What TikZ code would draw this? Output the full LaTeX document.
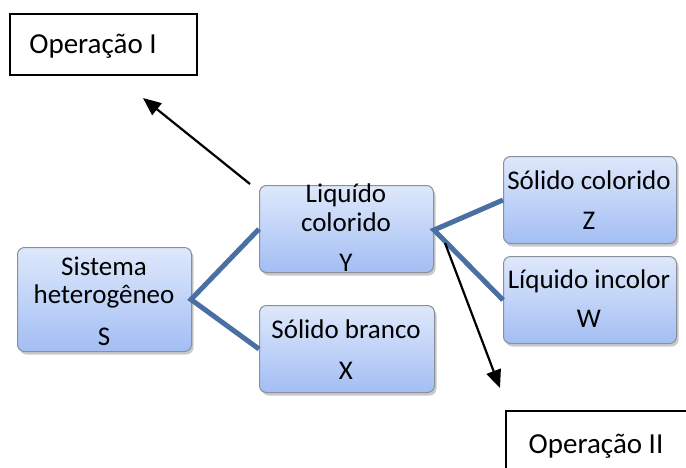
\documentclass[tikz,border=0pt]{standalone}
\usepackage{fontspec}
\setmainfont{Carlito}
\usetikzlibrary{shadows,arrows.meta}
\definecolor{boxtop}{HTML}{DEE8FB}
\definecolor{boxbot}{HTML}{A3BEF4}
\definecolor{boxline}{HTML}{8A8F99}
\definecolor{conn}{HTML}{4A6FA3}
\tikzset{
  bluebox/.style={draw=boxline, line width=1pt, rounded corners=7pt, top color=boxtop, bottom color=boxbot,
    drop shadow={shadow xshift=2pt, shadow yshift=-3pt, opacity=0.35, fill=black!60}},
  opbox/.style={draw=black, line width=1.6pt, fill=white},
  lbl/.style={font=\fontsize{27}{30}\selectfont, inner sep=0pt, anchor=base},
  oplbl/.style={font=\fontsize{29}{32}\selectfont, inner sep=0pt, anchor=base},
  conline/.style={draw=conn, line width=5pt},
  oparrow/.style={draw=black, line width=2.2pt, -{Triangle[length=18pt,width=15pt]}},
}
\begin{document}
\begin{tikzpicture}[x=1pt,y=-1pt]
\useasboundingbox (0,0) rectangle (686,467);
\begin{scope}
\clip (0,0) rectangle (686,467);
% operation boxes
\node[opbox, minimum width=187pt, minimum height=61pt, anchor=north west] (op1) at (9,13) {};
\node[oplbl] (op1t) at (93,53) {Operação I};
\node[opbox, minimum width=190pt, minimum height=70pt, anchor=north west] (op2) at (505,410) {};
\node[oplbl] (op2t) at (596,453) {Operação II};
% blue boxes
\node[bluebox, minimum width=174pt, minimum height=104pt, anchor=north west] (S) at (17,247) {};
\node[bluebox, minimum width=174pt, minimum height=87pt, anchor=north west] (Y) at (259,185) {};
\node[bluebox, minimum width=175pt, minimum height=87pt, anchor=north west] (X) at (259,305) {};
\node[bluebox, minimum width=173pt, minimum height=87pt, anchor=north west] (Z) at (503,156) {};
\node[bluebox, minimum width=173pt, minimum height=87pt, anchor=north west] (W) at (503,256) {};
% labels
\node[lbl] (s1) at (104,275) {Sistema};
\node[lbl] (s2) at (104,303) {heterogêneo};
\node[lbl] (s3) at (104,345) {S};
\node[lbl] (y1) at (346,202) {Liquído};
\node[lbl] (y2) at (346,231) {colorido};
\node[lbl] (y3) at (346,271) {Y};
\node[lbl] (x1) at (346,338) {Sólido branco};
\node[lbl] (x2) at (346,379) {X};
\node[lbl] (z1) at (589,189) {Sólido colorido};
\node[lbl] (z2) at (589,229) {Z};
\node[lbl] (w1) at (589,288) {Líquido incolor};
\node[lbl] (w2) at (589,327) {W};
% connectors
\coordinate (sj) at ([xshift=-1pt]S.east);
\coordinate (yj) at ([xshift=0pt,yshift=-1pt]Y.east);
\draw[conline] (Y.west) -- (sj) -- (X.west);
\draw[conline] (Z.west) -- (yj) -- (W.west);
% operation arrows
\coordinate (a1s) at (250,184);
\coordinate (a1e) at (143,98);
\coordinate (a2s) at (445,243);
\coordinate (a2e) at (500,388);
\draw[oparrow] (a1s) -- (a1e);
\draw[oparrow] (a2s) -- (a2e);
\end{scope}
\end{tikzpicture}
\end{document}
